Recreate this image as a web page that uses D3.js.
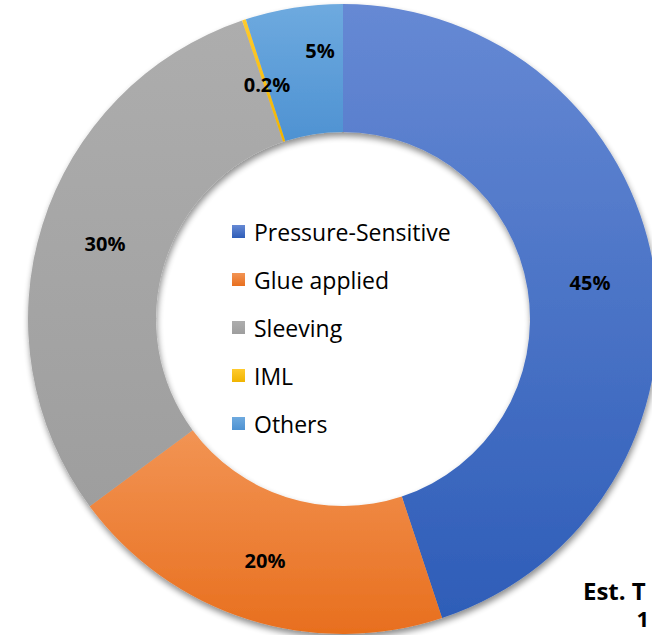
<!DOCTYPE html>
<html><head><meta charset="utf-8">
<script src="https://cdn.jsdelivr.net/npm/d3@7"></script>
<style>html,body{margin:0;padding:0;background:#fff;overflow:hidden}</style>
</head><body>
<svg id="chart" width="652" height="635"></svg>
<script>
const categories = ["Pressure-Sensitive", "Glue applied", "Sleeving", "IML", "Others"];
const values = [45, 20, 30, 0.2, 5];
const labels = ["45%", "20%", "30%", "0.2%", "5%"];
const footnoteLines = ["Est. T", "1"];
const colorsTop = ["#6689D4", "#F29454", "#ADADAD", "#FFCB2E", "#6EAADF"];
const colorsBottom = ["#2E5DB8", "#E86F1E", "#9E9E9E", "#F0B400", "#4E92D2"];

const FONT = "'Open Sans', Lato, 'Liberation Sans', sans-serif";
const svg = d3.select("#chart");
const cx = 343, cy = 319, R = 315, r = 187;
const defs = svg.append("defs");
const f = defs.append("filter").attr("id","sh").attr("x","-10%").attr("y","-10%").attr("width","130%").attr("height","130%");
f.append("feGaussianBlur").attr("in","SourceAlpha").attr("stdDeviation",3);
f.append("feOffset").attr("dx",1).attr("dy",4).attr("result","ob");
f.append("feComponentTransfer").append("feFuncA").attr("type","linear").attr("slope",0.45);
const m = f.append("feMerge"); m.append("feMergeNode"); m.append("feMergeNode").attr("in","SourceGraphic");

categories.forEach((c,i)=>{
  const g = defs.append("linearGradient").attr("id","g"+i).attr("x1",0).attr("y1",0).attr("x2",0).attr("y2",1);
  g.append("stop").attr("offset","0%").attr("stop-color",colorsTop[i]);
  g.append("stop").attr("offset","100%").attr("stop-color",colorsBottom[i]);
});

const pie = d3.pie().value(d=>d).sort(null);
const arcs = pie(values);
const arc = d3.arc().innerRadius(r).outerRadius(R);
const gp = svg.append("g").attr("transform",`translate(${cx},${cy})`);
gp.append("g").attr("filter","url(#sh)").selectAll("path").data(arcs).join("path")
  .attr("d",arc).attr("fill",(d,i)=>`url(#g${i})`);

const labelPos = [[590,282],[265,560],[105,243],[267,84],[320,50]];
svg.append("g").selectAll("text").data(arcs).join("text")
  .attr("x",(d,i)=>labelPos[i][0]).attr("y",(d,i)=>labelPos[i][1])
  .attr("text-anchor","middle").attr("dominant-baseline","central")
  .attr("font-family",FONT).attr("font-weight","bold")
  .attr("font-size",20).attr("fill","#000").text((d,i)=>labels[i]);

const lg = svg.append("g");
const ly = d3.scalePoint().domain(categories).range([231,423]);
categories.forEach((c,i)=>{
  lg.append("rect").attr("x",232).attr("y",ly(c)-6).attr("width",13).attr("height",13).attr("fill",`url(#g${i})`);
  lg.append("text").attr("x",254).attr("y",ly(c)+1).attr("dominant-baseline","central")
    .attr("font-family",FONT).attr("font-size",23).attr("fill","#000").text(c);
});

svg.append("text").attr("x",583).attr("y",590).attr("dominant-baseline","central")
  .attr("font-family",FONT).attr("font-weight","bold").attr("font-size",24).text(footnoteLines[0]);
svg.append("text").attr("x",649).attr("y",618).attr("text-anchor","end").attr("dominant-baseline","central")
  .attr("font-family",FONT).attr("font-weight","bold").attr("font-size",22).text(footnoteLines[1]);
</script>
</body></html>
